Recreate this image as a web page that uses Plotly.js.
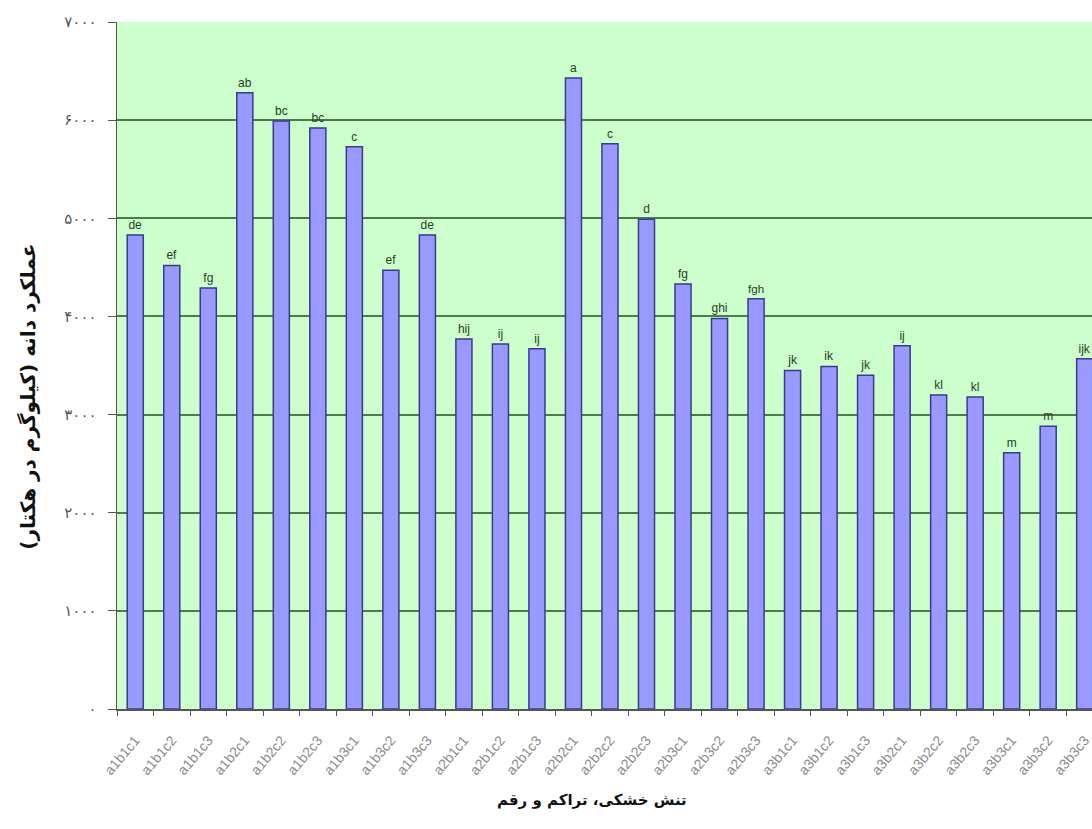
<!DOCTYPE html>
<html>
<head>
<meta charset="utf-8">
<script src="https://cdn.plot.ly/plotly-3.0.1.min.js"></script>
<style>html,body{margin:0;padding:0;background:#fff;}#chart{width:1092px;height:829px;}</style>
</head>
<body>
<div id="chart"></div>
<script>
var categories = ["a1b1c1","a1b1c2","a1b1c3","a1b2c1","a1b2c2","a1b2c3","a1b3c1","a1b3c2","a1b3c3",
                  "a2b1c1","a2b1c2","a2b1c3","a2b2c1","a2b2c2","a2b2c3","a2b3c1","a2b3c2","a2b3c3",
                  "a3b1c1","a3b1c2","a3b1c3","a3b2c1","a3b2c2","a3b2c3","a3b3c1","a3b3c2","a3b3c3"];
var yieldValues = [4830, 4520, 4290, 6280, 5990, 5920, 5730, 4470, 4830,
                   3770, 3720, 3670, 6430, 5760, 4990, 4330, 3980, 4180,
                   3450, 3490, 3400, 3700, 3200, 3180, 2610, 2880, 3570];
var letters = ["de","ef","fg","ab","bc","bc","c","ef","de",
               "hij","ij","ij","a","c","d","fg","ghi","fgh",
               "jk","ik","jk","ij","kl","kl","m","m","ijk"];
var yTickVals = [0,1000,2000,3000,4000,5000,6000,7000];
var yTickText = ["۰","۱۰۰۰","۲۰۰۰","۳۰۰۰","۴۰۰۰","۵۰۰۰","۶۰۰۰","۷۰۰۰"];
var xTitle = "تنش خشکی، تراکم و رقم";
var yTitle = "عملکرد دانه (کیلوگرم در هکتار)";

var trace = {
  type: "bar",
  x: categories,
  y: yieldValues,
  text: letters,
  textposition: "outside",
  cliponaxis: false,
  textfont: {family: "Liberation Sans, Arial, sans-serif", size: 12, color: "#1f3d1f"},
  marker: {color: "#9999ff", line: {color: "#3a3a8c", width: 1.5}},
  hoverinfo: "x+y"
};

var layout = {
  width: 1092,
  height: 829,
  margin: {l: 117, r: 0, t: 22, b: 120},
  paper_bgcolor: "#ffffff",
  plot_bgcolor: "#ccffcc",
  bargap: 0.56,
  showlegend: false,
  font: {family: "Liberation Sans, Arial, sans-serif"},
  xaxis: {
    type: "category",
    range: [-0.5, 26.2],
    tickangle: -50,
    tickfont: {size: 14, color: "#8a8a8a"},
    ticks: "outside",
    tickson: "boundaries",
    ticklen: 5,
    tickcolor: "#555",
    ticklabelstandoff: 16,
    showline: true,
    linecolor: "#555",
    linewidth: 1.5,
    showgrid: false,
    automargin: false
  },
  yaxis: {
    range: [0, 7000],
    tickvals: yTickVals,
    ticktext: yTickText,
    tickfont: {family: "DejaVu Sans, sans-serif", size: 15, color: "#555"},
    ticks: "outside",
    ticklen: 8,
    tickcolor: "#555",
    ticklabelstandoff: 8,
    showline: true,
    linecolor: "#555",
    linewidth: 1.5,
    showgrid: true,
    gridcolor: "#4e7a4e",
    gridwidth: 2,
    zeroline: false,
    automargin: false
  },
  annotations: [
    {text: "<b>" + xTitle + "</b>", xref: "paper", yref: "paper",
     x: 0.487, y: -0.132, xanchor: "center", yanchor: "middle", showarrow: false,
     font: {family: "DejaVu Sans, sans-serif", size: 15, color: "#111"}},
    {text: "<b>" + yTitle + "</b>", xref: "paper", yref: "paper",
     x: -0.091, y: 0.455, xanchor: "center", yanchor: "middle", showarrow: false, textangle: -90,
     font: {family: "DejaVu Sans, sans-serif", size: 20, color: "#111"}}
  ]
};

Plotly.newPlot("chart", [trace], layout, {displayModeBar: false, staticPlot: true});
</script>
</body>
</html>
